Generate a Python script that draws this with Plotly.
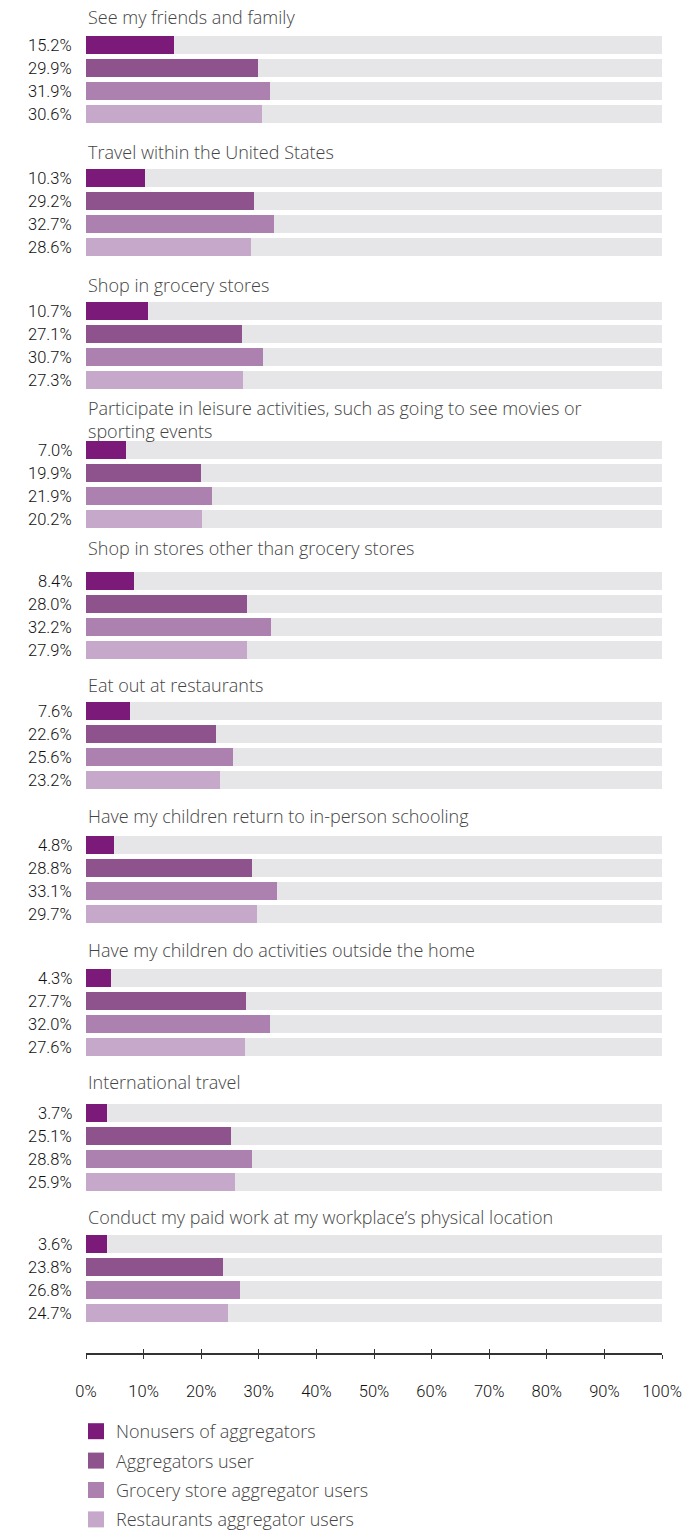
import plotly.graph_objects as go

# ---- data -------------------------------------------------------------
categories = [
    "See my friends and family",
    "Travel within the United States",
    "Shop in grocery stores",
    "Participate in leisure activities, such as going to see movies or<br>sporting events",
    "Shop in stores other than grocery stores",
    "Eat out at restaurants",
    "Have my children return to in-person schooling",
    "Have my children do activities outside the home",
    "International travel",
    "Conduct my paid work at my workplace\u2019s physical location",
]
series_names = [
    "Nonusers of aggregators",
    "Aggregators user",
    "Grocery store aggregator users",
    "Restaurants aggregator users",
]
nonusers = [15.2, 10.3, 10.7, 7.0, 8.4, 7.6, 4.8, 4.3, 3.7, 3.6]
aggregator_users = [29.9, 29.2, 27.1, 19.9, 28.0, 22.6, 28.8, 27.7, 25.1, 23.8]
grocery_users = [31.9, 32.7, 30.7, 21.9, 32.2, 25.6, 33.1, 32.0, 28.8, 26.8]
restaurant_users = [30.6, 28.6, 27.3, 20.2, 27.9, 23.2, 29.7, 27.6, 25.9, 24.7]
tick_values = [0, 10, 20, 30, 40, 50, 60, 70, 80, 90, 100]
tick_labels = ["0%", "10%", "20%", "30%", "40%", "50%", "60%", "70%", "80%", "90%", "100%"]

# ---- layout / style ---------------------------------------------------
W, H = 687, 1533
PLOT_BOTTOM = 1353                      # y position of the x axis line
group_top = [36, 169, 302, 441, 572, 702, 836, 969, 1104, 1235]
title_y = [17, 152, 285, 419, 548, 685, 816, 950, 1082, 1217]
BAR_PITCH = 23
BAR_H = 18
colors = ["#7b1a78", "#8e528d", "#ac80af", "#c6a8cb"]
track_color = "#e6e6e8"
title_font = dict(family="Open Sans", size=18, color="#444444", weight=300)
value_font = dict(family="Roboto", size=16.5, color="#111111", weight=300)

series = [nonusers, aggregator_users, grocery_users, restaurant_users]

fig = go.Figure()

# grey tracks behind every bar
track_y = [group_top[g] + k * BAR_PITCH + BAR_H / 2
           for g in range(len(categories)) for k in range(len(series))]
fig.add_trace(go.Bar(
    x=[100] * len(track_y), y=track_y, orientation="h", width=BAR_H,
    marker=dict(color=track_color, line=dict(width=0)),
    showlegend=False, hoverinfo="skip",
))

annotations = []
for k, (name, vals, col) in enumerate(zip(series_names, series, colors)):
    ys = [group_top[g] + k * BAR_PITCH + BAR_H / 2 for g in range(len(categories))]
    fig.add_trace(go.Bar(
        x=vals, y=ys, orientation="h", width=BAR_H, name=name,
        marker=dict(color=col, line=dict(width=0)),
        showlegend=False,
    ))
    for v, y in zip(vals, ys):
        annotations.append(dict(
            x=0, y=y, xref="x", yref="y", text=f"{v:.1f}%",
            xanchor="right", yanchor="middle", xshift=-12, showarrow=False,
            font=value_font,
        ))
    # legend swatch
    fig.add_trace(go.Scatter(
        x=[None], y=[None], mode="markers", name=name, xaxis="x2",
        legendgroup=name,
        marker=dict(symbol="square", size=17, color=col),
    ))

# group titles above each block of bars
for cat, ty in zip(categories, title_y):
    annotations.append(dict(
        x=0, y=ty, xref="x", yref="y", text=cat, align="left",
        xanchor="left", yanchor="middle", showarrow=False,
        font=title_font,
    ))

fig.update_layout(
    width=W, height=H,
    margin=dict(l=86, r=25, t=0, b=H - PLOT_BOTTOM, pad=0, autoexpand=False),
    paper_bgcolor="white", plot_bgcolor="white",
    barmode="overlay",
    bargap=0,
    annotations=annotations,
    xaxis=dict(
        range=[0, 100], tickvals=tick_values, ticktext=tick_labels,
        showgrid=False, zeroline=False, showline=True,
        linecolor="#333333", linewidth=1.5,
        ticks="outside", ticklen=4, tickwidth=1, tickcolor="#333333",
        ticklabelstandoff=18, tickangle=0,
        tickfont=dict(family="Roboto", size=16.5, color="#111111", weight=300),
        fixedrange=True,
    ),
    xaxis2=dict(
        range=[0, 100], overlaying="x", anchor="y", side="bottom",
        tickvals=tick_values, showticklabels=False,
        showgrid=False, zeroline=False, showline=False,
        ticks="inside", ticklen=4, tickwidth=1, tickcolor="#333333",
    ),
    yaxis=dict(range=[PLOT_BOTTOM, 0], visible=False, fixedrange=True),
    showlegend=True,
    legend=dict(
        xref="container", yref="container",
        x=76 / W, y=1 - 1413 / H, xanchor="left", yanchor="top",
        orientation="v", tracegroupgap=3,
        font=dict(family="Open Sans", size=18, color="#444444", weight=300),
        bgcolor="rgba(0,0,0,0)",
    ),
)

fig.write_html("out.html")
